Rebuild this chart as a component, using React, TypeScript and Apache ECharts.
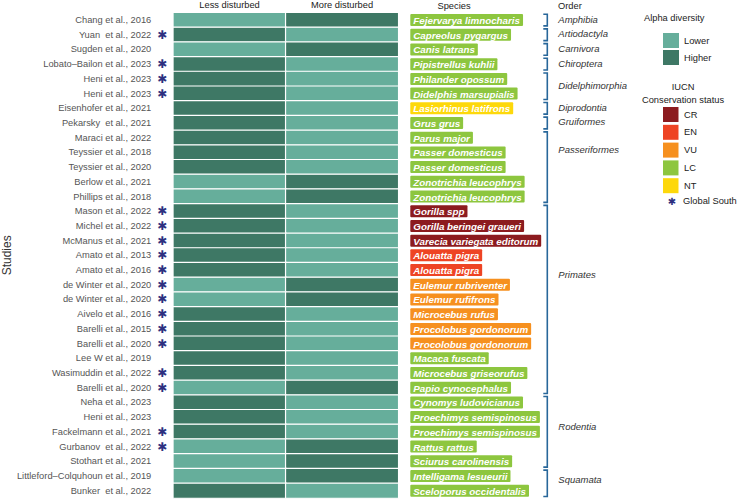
import React, { useEffect, useRef } from "react";
import * as echarts from "echarts";

// Studies, top to bottom
const STUDIES = [
  "Chang et al., 2016",
  "Yuan  et al., 2022",
  "Sugden et al., 2020",
  "Lobato–Bailon et al., 2023",
  "Heni et al., 2023",
  "Heni et al., 2023",
  "Eisenhofer et al., 2021",
  "Pekarsky  et al., 2021",
  "Maraci et al., 2022",
  "Teyssier et al., 2018",
  "Teyssier et al., 2020",
  "Berlow et al., 2021",
  "Phillips et al., 2018",
  "Mason et al., 2022",
  "Michel et al., 2022",
  "McManus et al., 2021",
  "Amato et al., 2013",
  "Amato et al., 2016",
  "de Winter et al., 2020",
  "de Winter et al., 2020",
  "Aivelo et al., 2016",
  "Barelli et al., 2015",
  "Barelli et al., 2020",
  "Lee W et al., 2019",
  "Wasimuddin et al., 2022",
  "Barelli et al., 2020",
  "Neha et al., 2023",
  "Heni et al., 2023",
  "Fackelmann et al., 2021",
  "Gurbanov  et al., 2022",
  "Stothart et al., 2021",
  "Littleford–Colquhoun et al., 2019",
  "Bunker  et al., 2022",
];

// 1 = study carried out in the Global South
const GLOBAL_SOUTH = [
  0, 1, 0, 1, 1, 1, 0, 0, 0, 0, 0, 0, 0, 1, 1, 1, 1, 1, 1, 1, 1, 1, 1, 0, 1, 1,
  0, 0, 1, 1, 0, 0, 0,
];

const SPECIES = [
  "Fejervarya limnocharis",
  "Capreolus pygargus",
  "Canis latrans",
  "Pipistrellus kuhlii",
  "Philander opossum",
  "Didelphis marsupialis",
  "Lasiorhinus latifrons",
  "Grus grus",
  "Parus major",
  "Passer domesticus",
  "Passer domesticus",
  "Zonotrichia leucophrys",
  "Zonotrichia leucophrys",
  "Gorilla spp",
  "Gorilla beringei graueri",
  "Varecia variegata editorum",
  "Alouatta pigra",
  "Alouatta pigra",
  "Eulemur rubriventer",
  "Eulemur rufifrons",
  "Microcebus rufus",
  "Procolobus gordonorum",
  "Procolobus gordonorum",
  "Macaca fuscata",
  "Microcebus griseorufus",
  "Papio cynocephalus",
  "Cynomys ludovicianus",
  "Proechimys semispinosus",
  "Proechimys semispinosus",
  "Rattus rattus",
  "Sciurus carolinensis",
  "Intelligama lesueurii",
  "Sceloporus occidentalis",
];

const IUCN_STATUS = [
  "LC", "LC", "LC", "LC", "LC", "LC", "NT", "LC", "LC", "LC", "LC", "LC", "LC",
  "CR", "CR", "CR", "EN", "EN", "VU", "VU", "VU", "VU", "VU", "LC", "LC", "LC",
  "LC", "LC", "LC", "LC", "LC", "LC", "LC",
];

const CONDITIONS = ["Less disturbed", "More disturbed"];

// Alpha diversity per condition: 1 = higher, 0 = lower
const LESS_DISTURBED = [
  0, 1, 0, 1, 1, 1, 1, 1, 1, 1, 1, 0, 0, 1, 1, 1, 1, 1, 0, 0, 1, 1, 1, 1, 1, 0,
  1, 1, 1, 0, 0, 0, 1,
];
const MORE_DISTURBED = [
  1, 0, 1, 0, 0, 0, 0, 0, 0, 0, 0, 1, 1, 0, 0, 0, 0, 0, 1, 1, 0, 0, 0, 0, 0, 1,
  0, 0, 0, 1, 1, 1, 0,
];

// Taxonomic orders: first row, last row, row where the name sits
const ORDERS = [
  "Amphibia", "Artiodactyla", "Carnivora", "Chiroptera", "Didelphimorphia",
  "Diprodontia", "Gruiformes", "Passeriformes", "Primates", "Rodentia", "Squamata",
];
const ORDER_START = [0, 1, 2, 3, 4, 6, 7, 8, 13, 26, 31];
const ORDER_END = [0, 1, 2, 3, 5, 6, 7, 12, 25, 30, 32];
const ORDER_LABEL_ROW = [0, 1, 2, 3, 4.5, 6, 7, 8.9, 17.4, 27.7, 31.3];

const IUCN_LEVELS = ["CR", "EN", "VU", "LC", "NT"];
const IUCN_COLORS: Record<string, string> = {
  CR: "#8c1b1f",
  EN: "#ee4424",
  VU: "#f6901f",
  LC: "#8dc63f",
  NT: "#fdd80b",
};

const LOWER_COLOR = "#66ae9b";
const HIGHER_COLOR = "#3e7865";
const BRACKET_COLOR = "#28679a";
const STAR_COLOR = "#2d3080";
const FONT = "'Liberation Sans', Arial, sans-serif";

export default function App() {
  const ref = useRef<HTMLDivElement>(null);

  useEffect(() => {
    if (!ref.current) return;
    const chart = echarts.init(ref.current, undefined, { renderer: "svg" });

    const heatData: number[][] = [];
    STUDIES.forEach((_, i) => {
      heatData.push([0, i, LESS_DISTURBED[i]]);
      heatData.push([1, i, MORE_DISTURBED[i]]);
    });

    const orderData = ORDERS.map((_, i) => [0, ORDER_START[i], ORDER_END[i], ORDER_LABEL_ROW[i]]);

    const rich: Record<string, any> = {};
    IUCN_LEVELS.forEach((k) => {
      rich[k] = {
        color: "#fff",
        backgroundColor: IUCN_COLORS[k],
        fontStyle: "italic",
        fontWeight: "bold",
        fontSize: 9.8,
        fontFamily: FONT,
        lineHeight: 9.5,
        padding: [1.5, 3, 0.5, 3],
        borderRadius: 1,
      };
    });

    const legendGraphics: any[] = [
      {
        type: "text",
        left: 644,
        top: 13,
        style: { text: "Alpha diversity", fontSize: 9.3, fontFamily: FONT, fill: "#222" },
      },
      {
        type: "text",
        x: 683,
        y: 87,
        style: { text: "IUCN", fontSize: 9.3, fontFamily: FONT, fill: "#222", align: "center", verticalAlign: "middle" },
      },
      {
        type: "text",
        x: 683,
        y: 100,
        style: {
          text: "Conservation status",
          fontSize: 9.3,
          fontFamily: FONT,
          fill: "#222",
          align: "center",
          verticalAlign: "middle",
        },
      },
      {
        type: "text",
        x: 672,
        y: 201,
        style: { text: "✱", fontSize: 10, fontFamily: "DejaVu Sans", fill: STAR_COLOR, align: "center", verticalAlign: "middle" },
      },
      {
        type: "text",
        x: 683,
        y: 201,
        style: { text: "Global South", fontSize: 9.3, fontFamily: FONT, fill: "#222", verticalAlign: "middle" },
      },
      {
        type: "text",
        x: 454,
        y: 6,
        style: { text: "Species", fontSize: 9.3, fontFamily: FONT, fill: "#222", align: "center", verticalAlign: "middle" },
      },
      {
        type: "text",
        x: 558,
        y: 6,
        style: { text: "Order", fontSize: 9.3, fontFamily: FONT, fill: "#222", verticalAlign: "middle" },
      },
    ];
    IUCN_LEVELS.forEach((k, i) => {
      const y = 107 + i * 17.8;
      legendGraphics.push({
        type: "rect",
        shape: { x: 663, y, width: 15.5, height: 15 },
        style: { fill: IUCN_COLORS[k] },
      });
      legendGraphics.push({
        type: "text",
        x: 684,
        y: y + 7.5,
        style: { text: k, fontSize: 9.3, fontFamily: FONT, fill: "#222", verticalAlign: "middle" },
      });
    });

    chart.setOption({
      animation: false,
      backgroundColor: "#fff",
      textStyle: { fontFamily: FONT },
      grid: { left: 170, right: 339.7, top: 12.7, height: 485.3, containLabel: false },
      xAxis: {
        type: "category",
        position: "top",
        data: CONDITIONS,
        axisLine: { show: false },
        axisTick: { show: false },
        splitLine: { show: false },
        axisLabel: { margin: 3, fontSize: 9.3, color: "#222", fontFamily: FONT },
      },
      yAxis: [
        {
          type: "category",
          inverse: true,
          data: STUDIES,
          position: "left",
          axisLine: { show: false },
          axisTick: { show: false },
          axisLabel: { interval: 0, margin: 22, fontSize: 9.3, color: "#555", fontFamily: FONT },
          name: "Studies",
          nameLocation: "middle",
          nameGap: 157,
          nameTextStyle: { fontSize: 12, color: "#333", fontFamily: FONT },
        },
        {
          type: "category",
          inverse: true,
          data: STUDIES,
          position: "left",
          axisLine: { show: false },
          axisTick: { show: false },
          axisLabel: {
            interval: 0,
            margin: 6,
            fontSize: 12,
            color: STAR_COLOR,
            fontFamily: "DejaVu Sans",
            formatter: (_v: string, i: number) => (GLOBAL_SOUTH[i] ? "✱" : ""),
          },
        },
        {
          type: "category",
          inverse: true,
          data: SPECIES,
          position: "right",
          axisLine: { show: false },
          axisTick: { show: false },
          axisLabel: {
            interval: 0,
            margin: 12,
            align: "left",
            formatter: (v: string, i: number) => `{${IUCN_STATUS[i]}|${v}}`,
            rich,
          },
        },
      ],
      visualMap: {
        type: "piecewise",
        seriesIndex: 0,
        dimension: 2,
        orient: "vertical",
        inverse: true,
        align: "left",
        left: 663,
        top: 33,
        padding: 0,
        itemWidth: 16,
        itemHeight: 15,
        itemGap: 2,
        itemSymbol: "rect",
        textGap: 5,
        selectedMode: false,
        textStyle: { fontSize: 9.3, color: "#222", fontFamily: FONT },
        pieces: [
          { value: 0, label: "Lower", color: LOWER_COLOR },
          { value: 1, label: "Higher", color: HIGHER_COLOR },
        ],
      },
      graphic: legendGraphics,
      series: [
        {
          type: "heatmap",
          xAxisIndex: 0,
          yAxisIndex: 0,
          data: heatData,
          itemStyle: { borderColor: "#fff", borderWidth: 1.2 },
          emphasis: { disabled: true },
        },
        {
          type: "custom",
          xAxisIndex: 0,
          yAxisIndex: 0,
          clip: false,
          encode: { x: 0, y: 1 },
          data: orderData,
          renderItem: (params: any, api: any) => {
            const s = api.value(1);
            const e = api.value(2);
            const lr = api.value(3);
            const band = api.size([0, 1])[1];
            const yTop = api.coord([0, s])[1] - band / 2 + 1.5;
            const yBot = api.coord([0, e])[1] + band / 2 - 1.5;
            const y0 = api.coord([0, 0])[1];
            const xLine = params.coordSys.x + params.coordSys.width + 149;
            return {
              type: "group",
              children: [
                {
                  type: "polyline",
                  shape: {
                    points: [
                      [xLine - 4, yTop],
                      [xLine, yTop],
                      [xLine, yBot],
                      [xLine - 4, yBot],
                    ],
                  },
                  style: { stroke: BRACKET_COLOR, lineWidth: 1.6, fill: "none" },
                },
                {
                  type: "text",
                  x: xLine + 11,
                  y: y0 + lr * band - 1,
                  style: {
                    text: ORDERS[params.dataIndex],
                    fontSize: 9.5,
                    fontStyle: "italic",
                    fontFamily: FONT,
                    fill: "#333",
                    verticalAlign: "middle",
                  },
                },
              ],
            };
          },
        },
      ],
    });

    return () => chart.dispose();
  }, []);

  return (
    <div
      ref={ref}
      style={{ position: "fixed", left: 0, top: 0, width: 738, height: 499, background: "#fff" }}
    />
  );
}
